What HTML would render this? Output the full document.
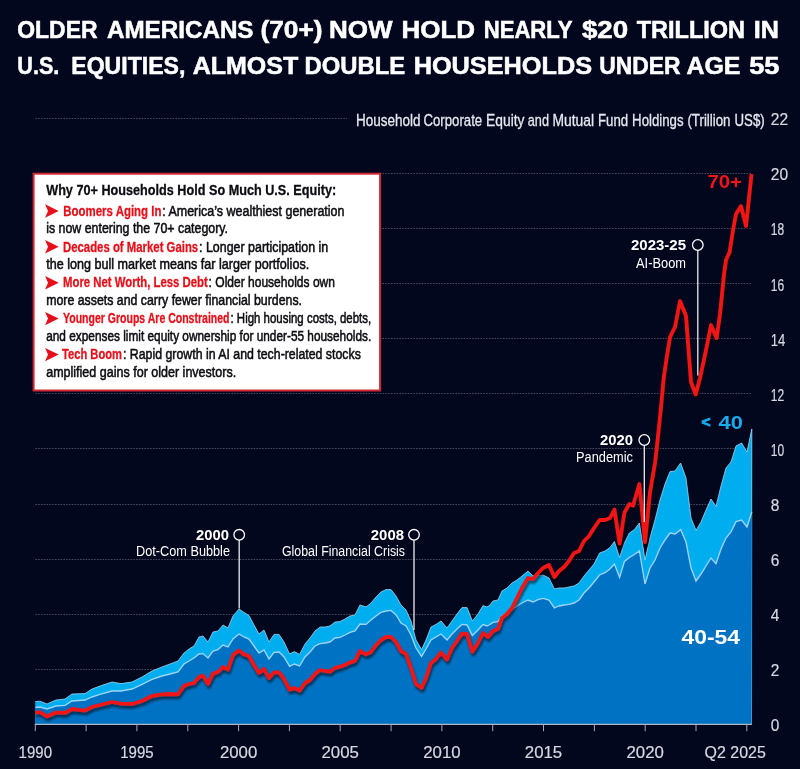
<!DOCTYPE html>
<html lang="en"><head><meta charset="utf-8"><title>Older Americans (70+) equity holdings</title>
<style>html,body{margin:0;padding:0;background:#03071e;}svg{display:block}text{font-family:"Liberation Sans",sans-serif;}</style>
</head><body>
<svg width="800" height="769" viewBox="0 0 800 769">
<defs><filter id="sh" x="-5%" y="-5%" width="110%" height="110%"><feGaussianBlur in="SourceAlpha" stdDeviation="1.2"/><feOffset dx="0.5" dy="2.5" result="b"/><feComponentTransfer><feFuncA type="linear" slope="0.55"/></feComponentTransfer><feMerge><feMergeNode/><feMergeNode in="SourceGraphic"/></feMerge></filter>
<filter id="bsh" x="-5%" y="-5%" width="110%" height="110%"><feGaussianBlur in="SourceAlpha" stdDeviation="2"/><feOffset dx="0" dy="1"/><feComponentTransfer><feFuncA type="linear" slope="0.5"/></feComponentTransfer><feMerge><feMergeNode/><feMergeNode in="SourceGraphic"/></feMerge></filter></defs>
<rect width="800" height="769" fill="#03071e"/>
<text x="17.3" y="38" font-size="24" font-weight="bold" fill="#fff" textLength="80.2" lengthAdjust="spacingAndGlyphs" stroke="#fff" stroke-width="0.55">OLDER</text>
<text x="107.0" y="38" font-size="24" font-weight="bold" fill="#fff" textLength="146.5" lengthAdjust="spacingAndGlyphs" stroke="#fff" stroke-width="0.55">AMERICANS</text>
<text x="260.4" y="38" font-size="24" font-weight="bold" fill="#fff" textLength="62.1" lengthAdjust="spacingAndGlyphs" stroke="#fff" stroke-width="0.55">(70+)</text>
<text x="329.0" y="38" font-size="24" font-weight="bold" fill="#fff" textLength="63.5" lengthAdjust="spacingAndGlyphs" stroke="#fff" stroke-width="0.55">NOW</text>
<text x="401.5" y="38" font-size="24" font-weight="bold" fill="#fff" textLength="73.6" lengthAdjust="spacingAndGlyphs" stroke="#fff" stroke-width="0.55">HOLD</text>
<text x="483.7" y="38" font-size="24" font-weight="bold" fill="#fff" textLength="88.8" lengthAdjust="spacingAndGlyphs" stroke="#fff" stroke-width="0.55">NEARLY</text>
<text x="581.9000000000001" y="38" font-size="24" font-weight="bold" fill="#fff" textLength="46.2" lengthAdjust="spacingAndGlyphs" stroke="#fff" stroke-width="0.55">$20</text>
<text x="636.7" y="38" font-size="24" font-weight="bold" fill="#fff" textLength="108.4" lengthAdjust="spacingAndGlyphs" stroke="#fff" stroke-width="0.55">TRILLION</text>
<text x="753.7" y="38" font-size="24" font-weight="bold" fill="#fff" textLength="25.1" lengthAdjust="spacingAndGlyphs" stroke="#fff" stroke-width="0.55">IN</text>
<text x="17.3" y="73.6" font-size="24" font-weight="bold" fill="#fff" textLength="42.0" lengthAdjust="spacingAndGlyphs" stroke="#fff" stroke-width="0.55">U.S.</text>
<text x="71.3" y="73.6" font-size="24" font-weight="bold" fill="#fff" textLength="114.0" lengthAdjust="spacingAndGlyphs" stroke="#fff" stroke-width="0.55">EQUITIES,</text>
<text x="192.7" y="73.6" font-size="24" font-weight="bold" fill="#fff" textLength="105.6" lengthAdjust="spacingAndGlyphs" stroke="#fff" stroke-width="0.55">ALMOST</text>
<text x="304.5" y="73.6" font-size="24" font-weight="bold" fill="#fff" textLength="100.6" lengthAdjust="spacingAndGlyphs" stroke="#fff" stroke-width="0.55">DOUBLE</text>
<text x="413.7" y="73.6" font-size="24" font-weight="bold" fill="#fff" textLength="178.4" lengthAdjust="spacingAndGlyphs" stroke="#fff" stroke-width="0.55">HOUSEHOLDS</text>
<text x="599.2" y="73.6" font-size="24" font-weight="bold" fill="#fff" textLength="81.3" lengthAdjust="spacingAndGlyphs" stroke="#fff" stroke-width="0.55">UNDER</text>
<text x="686.5" y="73.6" font-size="24" font-weight="bold" fill="#fff" textLength="54.0" lengthAdjust="spacingAndGlyphs" stroke="#fff" stroke-width="0.55">AGE</text>
<text x="749.2" y="73.6" font-size="24" font-weight="bold" fill="#fff" textLength="30.3" lengthAdjust="spacingAndGlyphs" stroke="#fff" stroke-width="0.55">55</text>
<text x="355.9" y="126" font-size="16.8" font-weight="normal" fill="#e6e8f0" textLength="64.6" lengthAdjust="spacingAndGlyphs" stroke="#e6e8f0" stroke-width="0.3">Household</text>
<text x="423.5" y="126" font-size="16.8" font-weight="normal" fill="#e6e8f0" textLength="58.7" lengthAdjust="spacingAndGlyphs" stroke="#e6e8f0" stroke-width="0.3">Corporate</text>
<text x="486.1" y="126" font-size="16.8" font-weight="normal" fill="#e6e8f0" textLength="38.4" lengthAdjust="spacingAndGlyphs" stroke="#e6e8f0" stroke-width="0.3">Equity</text>
<text x="527.8" y="126" font-size="16.8" font-weight="normal" fill="#e6e8f0" textLength="21.2" lengthAdjust="spacingAndGlyphs" stroke="#e6e8f0" stroke-width="0.3">and</text>
<text x="552.5" y="126" font-size="16.8" font-weight="normal" fill="#e6e8f0" textLength="41.6" lengthAdjust="spacingAndGlyphs" stroke="#e6e8f0" stroke-width="0.3">Mutual</text>
<text x="598.0" y="126" font-size="16.8" font-weight="normal" fill="#e6e8f0" textLength="30.2" lengthAdjust="spacingAndGlyphs" stroke="#e6e8f0" stroke-width="0.3">Fund</text>
<text x="632.1" y="126" font-size="16.8" font-weight="normal" fill="#e6e8f0" textLength="51.4" lengthAdjust="spacingAndGlyphs" stroke="#e6e8f0" stroke-width="0.3">Holdings</text>
<text x="687.4" y="126" font-size="16.8" font-weight="normal" fill="#e6e8f0" textLength="43.1" lengthAdjust="spacingAndGlyphs" stroke="#e6e8f0" stroke-width="0.3">(Trillion</text>
<text x="734.5" y="126" font-size="16.8" font-weight="normal" fill="#e6e8f0" textLength="30.2" lengthAdjust="spacingAndGlyphs" stroke="#e6e8f0" stroke-width="0.3">US$)</text>
<line x1="35.3" y1="669.5" x2="751.5" y2="669.5" stroke="#ffffff" stroke-opacity="0.27" stroke-width="1" stroke-dasharray="1.6 1.2"/>
<line x1="35.3" y1="614.5" x2="751.5" y2="614.5" stroke="#ffffff" stroke-opacity="0.27" stroke-width="1" stroke-dasharray="1.6 1.2"/>
<line x1="35.3" y1="559.5" x2="751.5" y2="559.5" stroke="#ffffff" stroke-opacity="0.27" stroke-width="1" stroke-dasharray="1.6 1.2"/>
<line x1="35.3" y1="504.5" x2="751.5" y2="504.5" stroke="#ffffff" stroke-opacity="0.27" stroke-width="1" stroke-dasharray="1.6 1.2"/>
<line x1="35.3" y1="448.5" x2="751.5" y2="448.5" stroke="#ffffff" stroke-opacity="0.27" stroke-width="1" stroke-dasharray="1.6 1.2"/>
<line x1="35.3" y1="393.5" x2="751.5" y2="393.5" stroke="#ffffff" stroke-opacity="0.27" stroke-width="1" stroke-dasharray="1.6 1.2"/>
<line x1="35.3" y1="338.5" x2="751.5" y2="338.5" stroke="#ffffff" stroke-opacity="0.27" stroke-width="1" stroke-dasharray="1.6 1.2"/>
<line x1="35.3" y1="283.5" x2="751.5" y2="283.5" stroke="#ffffff" stroke-opacity="0.27" stroke-width="1" stroke-dasharray="1.6 1.2"/>
<line x1="35.3" y1="228.5" x2="751.5" y2="228.5" stroke="#ffffff" stroke-opacity="0.27" stroke-width="1" stroke-dasharray="1.6 1.2"/>
<line x1="35.3" y1="173.5" x2="751.5" y2="173.5" stroke="#ffffff" stroke-opacity="0.27" stroke-width="1" stroke-dasharray="1.6 1.2"/>
<line x1="35.3" y1="118.5" x2="347" y2="118.5" stroke="#ffffff" stroke-opacity="0.27" stroke-width="1" stroke-dasharray="1.6 1.2"/>
<path d="M35.3,724.4 L35.3 701.6 L40.0 701.2 L47.0 704.0 L56.0 700.0 L65.0 699.0 L72.0 694.0 L85.0 693.6 L92.0 689.0 L100.0 686.0 L112.0 682.0 L121.0 683.6 L132.0 682.0 L142.0 677.0 L152.0 671.0 L162.0 667.0 L170.0 664.0 L178.0 661.0 L184.0 653.0 L189.0 649.0 L194.0 646.0 L199.0 637.0 L203.0 636.0 L208.0 642.0 L213.0 632.0 L218.0 631.0 L223.0 625.0 L228.0 628.0 L233.0 616.0 L239.0 609.0 L244.0 612.4 L249.0 615.6 L254.0 625.0 L259.0 634.0 L264.0 630.0 L269.0 642.0 L274.0 634.4 L279.0 634.4 L284.0 642.0 L289.6 654.0 L294.4 651.6 L299.6 654.4 L305.0 644.0 L310.0 638.0 L315.0 631.0 L320.0 627.0 L325.0 627.0 L330.0 626.0 L335.0 622.0 L340.0 621.6 L345.0 619.0 L350.0 616.0 L355.0 615.0 L360.0 605.0 L366.0 607.0 L371.0 603.0 L376.0 597.0 L381.0 592.0 L386.0 589.6 L391.0 589.6 L396.0 596.0 L401.0 605.0 L406.0 610.0 L411.0 621.0 L416.0 640.0 L421.6 649.6 L426.0 640.0 L431.0 627.0 L436.0 624.4 L441.0 621.0 L447.0 628.0 L452.0 621.0 L457.0 614.0 L462.0 607.6 L467.0 607.6 L472.4 621.0 L478.0 614.0 L483.0 605.6 L487.0 607.0 L490.0 605.0 L493.0 601.0 L498.0 600.0 L502.0 591.0 L507.0 588.0 L512.0 583.0 L517.0 580.0 L522.0 576.0 L528.0 571.0 L533.0 576.0 L538.0 575.6 L543.0 575.0 L549.0 578.0 L554.4 589.0 L559.0 588.0 L564.0 588.0 L569.0 587.0 L574.0 586.0 L579.0 583.0 L584.0 576.0 L589.0 570.0 L594.0 564.0 L599.6 553.0 L605.0 551.0 L610.0 547.5 L614.4 541.5 L619.6 557.5 L624.4 543.0 L629.4 533.0 L634.4 529.6 L639.4 523.0 L645.0 560.0 L650.0 538.0 L655.0 520.0 L660.0 500.0 L665.0 484.0 L670.0 471.6 L675.0 471.0 L680.6 463.0 L686.0 478.0 L691.0 518.0 L696.0 530.4 L701.0 522.0 L706.0 510.0 L711.0 499.0 L716.0 506.4 L721.0 486.0 L726.0 468.0 L731.0 462.0 L736.0 446.0 L741.6 443.0 L747.0 452.0 L751.8 429.0 L751.5,724.4 Z" fill="#00aeef"/>
<polyline points="35.3,701.6 40.0,701.2 47.0,704.0 56.0,700.0 65.0,699.0 72.0,694.0 85.0,693.6 92.0,689.0 100.0,686.0 112.0,682.0 121.0,683.6 132.0,682.0 142.0,677.0 152.0,671.0 162.0,667.0 170.0,664.0 178.0,661.0 184.0,653.0 189.0,649.0 194.0,646.0 199.0,637.0 203.0,636.0 208.0,642.0 213.0,632.0 218.0,631.0 223.0,625.0 228.0,628.0 233.0,616.0 239.0,609.0 244.0,612.4 249.0,615.6 254.0,625.0 259.0,634.0 264.0,630.0 269.0,642.0 274.0,634.4 279.0,634.4 284.0,642.0 289.6,654.0 294.4,651.6 299.6,654.4 305.0,644.0 310.0,638.0 315.0,631.0 320.0,627.0 325.0,627.0 330.0,626.0 335.0,622.0 340.0,621.6 345.0,619.0 350.0,616.0 355.0,615.0 360.0,605.0 366.0,607.0 371.0,603.0 376.0,597.0 381.0,592.0 386.0,589.6 391.0,589.6 396.0,596.0 401.0,605.0 406.0,610.0 411.0,621.0 416.0,640.0 421.6,649.6 426.0,640.0 431.0,627.0 436.0,624.4 441.0,621.0 447.0,628.0 452.0,621.0 457.0,614.0 462.0,607.6 467.0,607.6 472.4,621.0 478.0,614.0 483.0,605.6 487.0,607.0 490.0,605.0 493.0,601.0 498.0,600.0 502.0,591.0 507.0,588.0 512.0,583.0 517.0,580.0 522.0,576.0 528.0,571.0 533.0,576.0 538.0,575.6 543.0,575.0 549.0,578.0 554.4,589.0 559.0,588.0 564.0,588.0 569.0,587.0 574.0,586.0 579.0,583.0 584.0,576.0 589.0,570.0 594.0,564.0 599.6,553.0 605.0,551.0 610.0,547.5 614.4,541.5 619.6,557.5 624.4,543.0 629.4,533.0 634.4,529.6 639.4,523.0 645.0,560.0 650.0,538.0 655.0,520.0 660.0,500.0 665.0,484.0 670.0,471.6 675.0,471.0 680.6,463.0 686.0,478.0 691.0,518.0 696.0,530.4 701.0,522.0 706.0,510.0 711.0,499.0 716.0,506.4 721.0,486.0 726.0,468.0 731.0,462.0 736.0,446.0 741.6,443.0 747.0,452.0 751.8,429.0 751.5,724.4" fill="none" stroke="#a6dbf7" stroke-width="0.9" stroke-opacity="0.85"/>
<path d="M35.3,724.4 L35.3 707.4 L40.0 707.0 L47.0 709.0 L56.0 706.0 L65.0 705.4 L72.0 701.0 L85.0 700.0 L92.0 697.0 L100.0 694.4 L112.0 691.0 L121.0 691.0 L132.0 689.0 L142.0 684.4 L152.0 679.4 L162.0 676.0 L170.0 674.0 L178.0 672.0 L184.0 664.0 L189.0 661.0 L194.0 658.0 L199.0 654.0 L203.0 653.6 L208.0 658.0 L213.0 651.0 L218.0 649.6 L223.0 645.0 L228.0 647.0 L233.0 639.0 L239.0 634.0 L244.0 637.0 L249.0 639.0 L254.0 646.0 L259.0 653.0 L264.0 650.0 L269.0 659.0 L274.0 652.4 L279.0 652.0 L284.0 657.0 L289.6 666.4 L294.4 664.0 L299.6 666.0 L305.0 657.0 L310.0 652.0 L315.0 646.0 L320.0 643.6 L325.0 643.0 L330.0 642.0 L335.0 638.0 L340.0 637.3 L345.0 635.0 L350.0 632.4 L355.0 631.0 L360.0 624.0 L366.0 624.4 L371.0 620.0 L376.0 616.0 L381.0 612.4 L386.0 611.0 L391.0 610.4 L396.0 615.0 L401.0 623.0 L406.0 626.0 L411.0 635.0 L416.0 648.0 L421.6 656.4 L426.0 649.0 L431.0 640.0 L436.0 637.0 L441.0 634.0 L447.0 640.0 L452.0 634.0 L457.0 629.0 L462.0 624.4 L467.0 625.0 L472.4 635.6 L478.0 630.0 L483.0 624.5 L487.0 626.0 L490.0 624.5 L493.0 622.4 L498.0 621.6 L502.0 616.0 L507.0 613.0 L512.0 609.6 L517.0 606.0 L522.0 603.0 L528.0 600.0 L533.0 602.0 L538.0 599.6 L543.0 598.4 L549.0 600.0 L554.4 608.0 L559.0 606.0 L564.0 605.0 L569.0 604.4 L574.0 603.0 L579.0 600.0 L584.0 593.0 L589.0 588.0 L594.0 582.0 L599.6 575.0 L605.0 572.7 L610.0 569.0 L614.4 564.0 L619.6 577.5 L624.4 561.5 L629.4 557.5 L634.4 554.5 L639.4 551.0 L645.0 584.0 L650.0 568.0 L655.0 560.0 L660.0 548.0 L665.0 540.0 L670.0 533.0 L675.0 534.0 L680.6 529.6 L686.0 542.0 L691.0 568.0 L696.0 581.0 L701.0 574.0 L706.0 566.0 L711.0 558.0 L716.0 563.6 L721.0 549.0 L726.0 538.0 L731.0 532.0 L736.0 521.6 L741.6 520.0 L747.0 527.0 L751.8 512.0 L751.5,724.4 Z" fill="#0072c3"/>
<polyline points="35.3,707.4 40.0,707.0 47.0,709.0 56.0,706.0 65.0,705.4 72.0,701.0 85.0,700.0 92.0,697.0 100.0,694.4 112.0,691.0 121.0,691.0 132.0,689.0 142.0,684.4 152.0,679.4 162.0,676.0 170.0,674.0 178.0,672.0 184.0,664.0 189.0,661.0 194.0,658.0 199.0,654.0 203.0,653.6 208.0,658.0 213.0,651.0 218.0,649.6 223.0,645.0 228.0,647.0 233.0,639.0 239.0,634.0 244.0,637.0 249.0,639.0 254.0,646.0 259.0,653.0 264.0,650.0 269.0,659.0 274.0,652.4 279.0,652.0 284.0,657.0 289.6,666.4 294.4,664.0 299.6,666.0 305.0,657.0 310.0,652.0 315.0,646.0 320.0,643.6 325.0,643.0 330.0,642.0 335.0,638.0 340.0,637.3 345.0,635.0 350.0,632.4 355.0,631.0 360.0,624.0 366.0,624.4 371.0,620.0 376.0,616.0 381.0,612.4 386.0,611.0 391.0,610.4 396.0,615.0 401.0,623.0 406.0,626.0 411.0,635.0 416.0,648.0 421.6,656.4 426.0,649.0 431.0,640.0 436.0,637.0 441.0,634.0 447.0,640.0 452.0,634.0 457.0,629.0 462.0,624.4 467.0,625.0 472.4,635.6 478.0,630.0 483.0,624.5 487.0,626.0 490.0,624.5 493.0,622.4 498.0,621.6 502.0,616.0 507.0,613.0 512.0,609.6 517.0,606.0 522.0,603.0 528.0,600.0 533.0,602.0 538.0,599.6 543.0,598.4 549.0,600.0 554.4,608.0 559.0,606.0 564.0,605.0 569.0,604.4 574.0,603.0 579.0,600.0 584.0,593.0 589.0,588.0 594.0,582.0 599.6,575.0 605.0,572.7 610.0,569.0 614.4,564.0 619.6,577.5 624.4,561.5 629.4,557.5 634.4,554.5 639.4,551.0 645.0,584.0 650.0,568.0 655.0,560.0 660.0,548.0 665.0,540.0 670.0,533.0 675.0,534.0 680.6,529.6 686.0,542.0 691.0,568.0 696.0,581.0 701.0,574.0 706.0,566.0 711.0,558.0 716.0,563.6 721.0,549.0 726.0,538.0 731.0,532.0 736.0,521.6 741.6,520.0 747.0,527.0 751.8,512.0" fill="none" stroke="#aedcf7" stroke-width="1.35" stroke-opacity="0.9"/>
<line x1="34.8" y1="724.4" x2="751.8" y2="724.4" stroke="#aeb6c6" stroke-width="1.2"/>
<line x1="35.3" y1="724.4" x2="35.3" y2="731.1999999999999" stroke="#a2aabb" stroke-width="1"/>
<line x1="86.1" y1="724.4" x2="86.1" y2="731.1999999999999" stroke="#a2aabb" stroke-width="1"/>
<line x1="136.9" y1="724.4" x2="136.9" y2="731.1999999999999" stroke="#a2aabb" stroke-width="1"/>
<line x1="187.8" y1="724.4" x2="187.8" y2="731.1999999999999" stroke="#a2aabb" stroke-width="1"/>
<line x1="238.6" y1="724.4" x2="238.6" y2="731.1999999999999" stroke="#a2aabb" stroke-width="1"/>
<line x1="289.4" y1="724.4" x2="289.4" y2="731.1999999999999" stroke="#a2aabb" stroke-width="1"/>
<line x1="340.2" y1="724.4" x2="340.2" y2="731.1999999999999" stroke="#a2aabb" stroke-width="1"/>
<line x1="391.1" y1="724.4" x2="391.1" y2="731.1999999999999" stroke="#a2aabb" stroke-width="1"/>
<line x1="441.9" y1="724.4" x2="441.9" y2="731.1999999999999" stroke="#a2aabb" stroke-width="1"/>
<line x1="492.7" y1="724.4" x2="492.7" y2="731.1999999999999" stroke="#a2aabb" stroke-width="1"/>
<line x1="543.5" y1="724.4" x2="543.5" y2="731.1999999999999" stroke="#a2aabb" stroke-width="1"/>
<line x1="594.4" y1="724.4" x2="594.4" y2="731.1999999999999" stroke="#a2aabb" stroke-width="1"/>
<line x1="645.2" y1="724.4" x2="645.2" y2="731.1999999999999" stroke="#a2aabb" stroke-width="1"/>
<line x1="696.0" y1="724.4" x2="696.0" y2="731.1999999999999" stroke="#a2aabb" stroke-width="1"/>
<line x1="746.8" y1="724.4" x2="746.8" y2="731.1999999999999" stroke="#a2aabb" stroke-width="1"/>
<polyline points="35.3,713.0 40.0,712.0 47.0,716.4 56.0,712.4 65.0,713.0 72.0,709.0 85.0,710.6 92.0,707.0 100.0,705.0 112.0,702.0 121.0,703.6 132.0,704.0 142.0,701.0 152.0,696.0 162.0,694.4 170.0,694.0 178.0,694.4 184.0,686.0 189.0,684.0 194.0,683.0 199.0,677.0 203.0,675.6 208.0,684.0 213.0,673.6 218.0,672.0 223.0,667.0 228.0,669.6 233.0,655.0 239.0,650.4 244.0,654.4 249.0,656.0 254.0,665.0 259.0,673.0 264.0,669.0 269.0,678.0 274.0,672.4 279.0,672.4 284.0,679.0 289.6,689.6 294.4,688.0 299.6,690.6 305.0,683.0 310.0,680.0 315.0,674.0 320.0,670.0 325.0,671.0 330.0,671.6 335.0,668.0 340.0,666.6 345.0,665.0 350.0,662.4 355.0,661.0 360.0,651.0 366.0,654.4 371.0,652.0 376.0,645.0 381.0,640.0 386.0,637.0 391.0,637.0 396.0,642.0 401.0,651.0 406.0,654.0 411.0,668.0 416.0,684.0 421.6,688.0 426.0,678.0 431.0,663.0 436.0,659.0 441.0,652.4 447.0,659.6 452.0,648.0 457.0,641.0 462.0,633.6 467.0,634.0 472.4,651.6 478.0,643.0 483.0,633.0 488.0,637.0 493.0,631.0 498.0,629.0 502.0,618.0 507.0,614.0 512.0,608.0 517.0,598.0 522.0,588.0 528.0,578.0 533.0,579.0 538.0,573.0 543.0,568.0 549.0,565.0 554.4,577.0 559.0,571.0 564.0,567.0 569.0,561.0 574.0,553.0 579.0,551.0 584.0,541.0 589.0,536.0 594.0,528.0 599.6,520.0 605.0,520.0 610.0,518.0 614.4,509.5 619.6,543.5 624.4,512.5 629.4,504.0 633.0,505.6 639.4,484.0 645.0,542.0 650.0,492.0 655.0,463.0 657.6,440.0 660.7,410.0 663.7,378.0 666.6,358.0 670.0,337.0 675.0,327.0 680.0,301.0 686.0,316.0 689.0,356.0 691.0,382.0 695.6,394.4 700.0,378.0 706.0,350.0 711.0,325.0 716.6,338.0 720.0,314.0 724.0,274.0 726.0,260.0 729.6,252.0 733.0,230.0 736.0,214.0 741.0,206.0 746.0,226.0 751.5,174.0" fill="none" stroke="#f01418" stroke-width="3.8" stroke-linejoin="round" stroke-linecap="butt" filter="url(#sh)"/>
<line x1="239.2" y1="540.0" x2="239.2" y2="608.5" stroke="#ffffff" stroke-opacity="0.92" stroke-width="1.3"/>
<circle cx="239.2" cy="534.8" r="5.3" fill="#03071e" stroke="#ffffff" stroke-width="1.3"/>
<line x1="414" y1="540.0" x2="414" y2="630" stroke="#ffffff" stroke-opacity="0.92" stroke-width="1.3"/>
<circle cx="414" cy="534.8" r="5.3" fill="#03071e" stroke="#ffffff" stroke-width="1.3"/>
<line x1="644.3" y1="445.2" x2="644.3" y2="522" stroke="#ffffff" stroke-opacity="0.92" stroke-width="1.3"/>
<circle cx="644.3" cy="440" r="5.3" fill="#03071e" stroke="#ffffff" stroke-width="1.3"/>
<line x1="697.8" y1="250.2" x2="697.8" y2="375.6" stroke="#ffffff" stroke-opacity="0.92" stroke-width="1.3"/>
<circle cx="697.8" cy="245" r="5.3" fill="#03071e" stroke="#ffffff" stroke-width="1.3"/>
<text x="229" y="540" text-anchor="end" font-size="14.5" font-weight="bold" fill="#fff" textLength="33" lengthAdjust="spacingAndGlyphs">2000</text>
<text x="230" y="556" text-anchor="end" font-size="14" font-weight="normal" fill="#fff" textLength="94" lengthAdjust="spacingAndGlyphs">Dot-Com Bubble</text>
<text x="404" y="540" text-anchor="end" font-size="14.5" font-weight="bold" fill="#fff" textLength="33.2" lengthAdjust="spacingAndGlyphs">2008</text>
<text x="405" y="556" text-anchor="end" font-size="14" font-weight="normal" fill="#fff" textLength="123" lengthAdjust="spacingAndGlyphs">Global Financial Crisis</text>
<text x="633" y="445.2" text-anchor="end" font-size="14.5" font-weight="bold" fill="#fff" textLength="33" lengthAdjust="spacingAndGlyphs">2020</text>
<text x="633" y="462" text-anchor="end" font-size="14" font-weight="normal" fill="#fff" textLength="57" lengthAdjust="spacingAndGlyphs">Pandemic</text>
<text x="686" y="250.2" text-anchor="end" font-size="14.5" font-weight="bold" fill="#fff" textLength="55" lengthAdjust="spacingAndGlyphs">2023-25</text>
<text x="686" y="268" text-anchor="end" font-size="14" font-weight="normal" fill="#fff" textLength="50" lengthAdjust="spacingAndGlyphs">AI-Boom</text>
<text x="707.5" y="187.8" font-size="19" font-weight="bold" fill="#f01418" textLength="34.5" lengthAdjust="spacingAndGlyphs">70+</text>
<text x="701.5" y="427" font-size="15" font-weight="bold" fill="#16acf0" textLength="9.0" lengthAdjust="spacingAndGlyphs" stroke="#16acf0" stroke-width="0.9">&lt;</text>
<text x="718.6" y="429" font-size="19" font-weight="bold" fill="#16acf0" textLength="24.4" lengthAdjust="spacingAndGlyphs">40</text>
<text x="681.5" y="643.6" font-size="20" font-weight="bold" fill="#ffffff" textLength="58.5" lengthAdjust="spacingAndGlyphs">40-54</text>
<text x="770.8" y="731.3" font-size="16.2" fill="#d6d9e2" stroke="#d6d9e2" stroke-width="0.2" textLength="8.6" lengthAdjust="spacingAndGlyphs">0</text>
<text x="770.8" y="676.2" font-size="16.2" fill="#d6d9e2" stroke="#d6d9e2" stroke-width="0.2" textLength="8.6" lengthAdjust="spacingAndGlyphs">2</text>
<text x="770.8" y="621.1" font-size="16.2" fill="#d6d9e2" stroke="#d6d9e2" stroke-width="0.2" textLength="8.6" lengthAdjust="spacingAndGlyphs">4</text>
<text x="770.8" y="566.0" font-size="16.2" fill="#d6d9e2" stroke="#d6d9e2" stroke-width="0.2" textLength="8.6" lengthAdjust="spacingAndGlyphs">6</text>
<text x="770.8" y="510.9" font-size="16.2" fill="#d6d9e2" stroke="#d6d9e2" stroke-width="0.2" textLength="8.6" lengthAdjust="spacingAndGlyphs">8</text>
<text x="770.8" y="455.8" font-size="16.2" fill="#d6d9e2" stroke="#d6d9e2" stroke-width="0.2" textLength="13.4" lengthAdjust="spacingAndGlyphs">10</text>
<text x="770.8" y="400.7" font-size="16.2" fill="#d6d9e2" stroke="#d6d9e2" stroke-width="0.2" textLength="13.4" lengthAdjust="spacingAndGlyphs">12</text>
<text x="770.8" y="345.6" font-size="16.2" fill="#d6d9e2" stroke="#d6d9e2" stroke-width="0.2" textLength="14.6" lengthAdjust="spacingAndGlyphs">14</text>
<text x="770.8" y="290.5" font-size="16.2" fill="#d6d9e2" stroke="#d6d9e2" stroke-width="0.2" textLength="13.4" lengthAdjust="spacingAndGlyphs">16</text>
<text x="770.8" y="235.4" font-size="16.2" fill="#d6d9e2" stroke="#d6d9e2" stroke-width="0.2" textLength="13.4" lengthAdjust="spacingAndGlyphs">18</text>
<text x="770.8" y="180.3" font-size="16.2" fill="#d6d9e2" stroke="#d6d9e2" stroke-width="0.2" textLength="17.3" lengthAdjust="spacingAndGlyphs">20</text>
<text x="770.8" y="125.2" font-size="16.2" fill="#d6d9e2" stroke="#d6d9e2" stroke-width="0.2" textLength="17.3" lengthAdjust="spacingAndGlyphs">22</text>
<text x="35.3" y="758" text-anchor="middle" font-size="17" fill="#d6d9e2" stroke="#d6d9e2" stroke-width="0.2" textLength="33.4" lengthAdjust="spacingAndGlyphs">1990</text>
<text x="136.9" y="758" text-anchor="middle" font-size="17" fill="#d6d9e2" stroke="#d6d9e2" stroke-width="0.2" textLength="33.4" lengthAdjust="spacingAndGlyphs">1995</text>
<text x="238.6" y="758" text-anchor="middle" font-size="17" fill="#d6d9e2" stroke="#d6d9e2" stroke-width="0.2" textLength="37.4" lengthAdjust="spacingAndGlyphs">2000</text>
<text x="340.2" y="758" text-anchor="middle" font-size="17" fill="#d6d9e2" stroke="#d6d9e2" stroke-width="0.2" textLength="37.4" lengthAdjust="spacingAndGlyphs">2005</text>
<text x="441.9" y="758" text-anchor="middle" font-size="17" fill="#d6d9e2" stroke="#d6d9e2" stroke-width="0.2" textLength="37.4" lengthAdjust="spacingAndGlyphs">2010</text>
<text x="543.5" y="758" text-anchor="middle" font-size="17" fill="#d6d9e2" stroke="#d6d9e2" stroke-width="0.2" textLength="37.4" lengthAdjust="spacingAndGlyphs">2015</text>
<text x="645.2" y="758" text-anchor="middle" font-size="17" fill="#d6d9e2" stroke="#d6d9e2" stroke-width="0.2" textLength="37.4" lengthAdjust="spacingAndGlyphs">2020</text>
<text x="704.6" y="758" font-size="17" fill="#d6d9e2" stroke="#d6d9e2" stroke-width="0.2" textLength="61.2" lengthAdjust="spacingAndGlyphs">Q2 2025</text>
<rect x="33.6" y="173.7" width="346.5" height="216.8" fill="#ffffff" stroke="#cf2833" stroke-width="2"/>
<text x="46.2" y="195" font-size="15.2" font-weight="bold" fill="#0c0c12" stroke="#0c0c12" stroke-width="0.3" textLength="290.0" lengthAdjust="spacingAndGlyphs" xml:space="preserve">Why 70+ Households Hold So Much U.S. Equity:</text>
<path d="M45.1,204.3 L58.7,211 L45.1,217.7 L48.0,211 Z" fill="#e6101a"/>
<text x="63.3" y="215.6" font-size="15.2" font-weight="bold" fill="#e6101a" stroke="#e6101a" stroke-width="0.3" textLength="98.1" lengthAdjust="spacingAndGlyphs" xml:space="preserve">Boomers Aging In</text>
<text x="162.2" y="215.6" font-size="15.2" font-weight="normal" fill="#0c0c12" stroke="#0c0c12" stroke-width="0.55" textLength="182.3" lengthAdjust="spacingAndGlyphs" xml:space="preserve">: America’s wealthiest generation</text>
<text x="46.2" y="233.3" font-size="15.2" font-weight="normal" fill="#0c0c12" stroke="#0c0c12" stroke-width="0.55" textLength="181.8" lengthAdjust="spacingAndGlyphs" xml:space="preserve">is now entering the 70+ category.</text>
<path d="M45.1,240.10000000000002 L58.7,246.8 L45.1,253.5 L48.0,246.8 Z" fill="#e6101a"/>
<text x="63" y="251.5" font-size="15.2" font-weight="bold" fill="#e6101a" stroke="#e6101a" stroke-width="0.3" textLength="135.2" lengthAdjust="spacingAndGlyphs" xml:space="preserve">Decades of Market Gains</text>
<text x="199" y="251.5" font-size="15.2" font-weight="normal" fill="#0c0c12" stroke="#0c0c12" stroke-width="0.55" textLength="129.2" lengthAdjust="spacingAndGlyphs" xml:space="preserve">: Longer participation in</text>
<text x="46.2" y="269.4" font-size="15.2" font-weight="normal" fill="#0c0c12" stroke="#0c0c12" stroke-width="0.55" textLength="263.0" lengthAdjust="spacingAndGlyphs" xml:space="preserve">the long bull market means far larger portfolios.</text>
<path d="M45.1,276.0 L58.7,282.7 L45.1,289.4 L48.0,282.7 Z" fill="#e6101a"/>
<text x="63" y="287.4" font-size="15.2" font-weight="bold" fill="#e6101a" stroke="#e6101a" stroke-width="0.3" textLength="144.8" lengthAdjust="spacingAndGlyphs" xml:space="preserve">More Net Worth, Less Debt</text>
<text x="208.6" y="287.4" font-size="15.2" font-weight="normal" fill="#0c0c12" stroke="#0c0c12" stroke-width="0.55" textLength="126.4" lengthAdjust="spacingAndGlyphs" xml:space="preserve">: Older households own</text>
<text x="46.2" y="305.2" font-size="15.2" font-weight="normal" fill="#0c0c12" stroke="#0c0c12" stroke-width="0.55" textLength="255.8" lengthAdjust="spacingAndGlyphs" xml:space="preserve">more assets and carry fewer financial burdens.</text>
<path d="M45.1,311.90000000000003 L58.7,318.6 L45.1,325.3 L48.0,318.6 Z" fill="#e6101a"/>
<text x="63" y="323.3" font-size="15.2" font-weight="bold" fill="#e6101a" stroke="#e6101a" stroke-width="0.3" textLength="166.5" lengthAdjust="spacingAndGlyphs" xml:space="preserve">Younger Groups Are Constrained</text>
<text x="230.5" y="323.3" font-size="15.2" font-weight="normal" fill="#0c0c12" stroke="#0c0c12" stroke-width="0.55" textLength="140.7" lengthAdjust="spacingAndGlyphs" xml:space="preserve">: High housing costs, debts,</text>
<text x="46.2" y="341.4" font-size="15.2" font-weight="normal" fill="#0c0c12" stroke="#0c0c12" stroke-width="0.55" textLength="325.0" lengthAdjust="spacingAndGlyphs" xml:space="preserve">and expenses limit equity ownership for under-55 households.</text>
<path d="M45.1,347.90000000000003 L58.7,354.6 L45.1,361.3 L48.0,354.6 Z" fill="#e6101a"/>
<text x="62" y="359.3" font-size="15.2" font-weight="bold" fill="#e6101a" stroke="#e6101a" stroke-width="0.3" textLength="60.0" lengthAdjust="spacingAndGlyphs" xml:space="preserve">Tech Boom</text>
<text x="123" y="359.3" font-size="15.2" font-weight="normal" fill="#0c0c12" stroke="#0c0c12" stroke-width="0.55" textLength="237.8" lengthAdjust="spacingAndGlyphs" xml:space="preserve">: Rapid growth in AI and tech-related stocks</text>
<text x="46.2" y="377.2" font-size="15.2" font-weight="normal" fill="#0c0c12" stroke="#0c0c12" stroke-width="0.55" textLength="190.0" lengthAdjust="spacingAndGlyphs" xml:space="preserve">amplified gains for older investors.</text>
</svg></body></html>
